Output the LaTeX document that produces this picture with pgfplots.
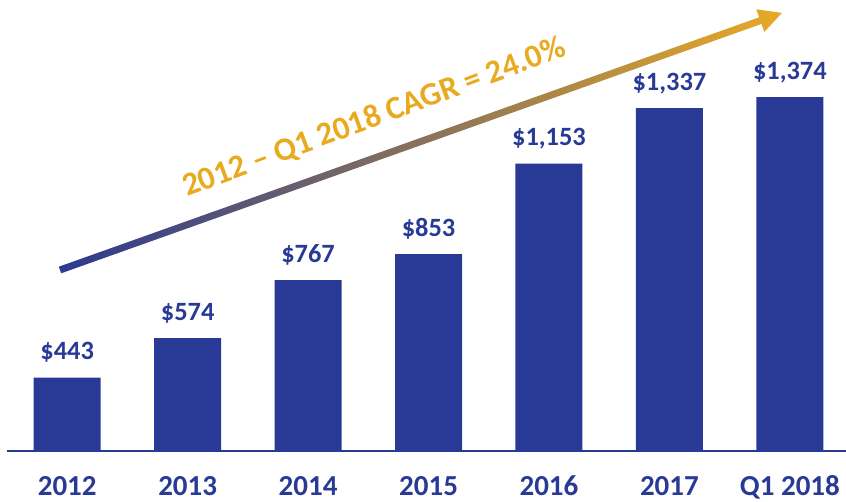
\documentclass[border=0pt]{standalone}
\usepackage{pgfplots}
\pgfplotsset{compat=1.18}
\usepackage{fontspec}
\setmainfont{Carlito}
\definecolor{barblue}{HTML}{283A96}
\definecolor{gold}{HTML}{E8AA1E}
\definecolor{arrowblue}{HTML}{2B3990}
\definecolor{mauve}{HTML}{9B7585}
\definecolor{arrowgold}{HTML}{E8AA25}
\begin{document}
\begin{tikzpicture}
\path[use as bounding box] (0,0) rectangle (423pt,251pt);
\begin{axis}[
  at={(3.5pt,25.5pt)}, anchor=south west,
  scale only axis, width=419.5pt, height=225.5pt,
  xmin=-0.5, xmax=6.466, ymin=200, ymax=1696,
  clip=false,
  ybar, bar width=33.5pt,
  axis x line*=bottom, axis y line=none,
  x axis line style={draw=barblue, line width=0.75pt, -},
  xtick={0,...,6},
  xticklabels={2012,2013,2014,2015,2016,2017,Q1 2018},
  major tick length=0pt,
  xticklabel style={font=\fontsize{14.5}{17}\selectfont\bfseries, text=barblue, anchor=base, yshift=-22.5pt},
  nodes near coords={\$\pgfmathprintnumber[1000 sep={,}, assume math mode=true]{\pgfplotspointmeta}},
  every node near coord/.append style={font=\fontsize{13.2}{15}\selectfont\bfseries, text=barblue, anchor=base, yshift=9pt},
]
\addplot[fill=barblue, draw=none] coordinates {
  (0,443) (1,574) (2,767) (3,853) (4,1153) (5,1337) (6,1374)
};
\end{axis}
\begin{scope}[shift={(30pt,116pt)}, rotate=19.6]
\shade[left color=arrowblue, middle color=mauve, right color=arrowgold]
  (0pt,-1.75pt) -- (371.7pt,-1.75pt) -- (371.7pt,-6pt) -- (383.2pt,0pt)
  -- (371.7pt,6pt) -- (371.7pt,1.75pt) -- (0pt,1.75pt) -- cycle;
\end{scope}
\node[anchor=base west, rotate=20.4, text=gold, font=\fontsize{16.3}{19}\selectfont\bfseries, inner sep=0pt]
  at (93.5pt,152.5pt) {2012 – Q1 2018 CAGR = 24.0\%};
\end{tikzpicture}
\end{document}
